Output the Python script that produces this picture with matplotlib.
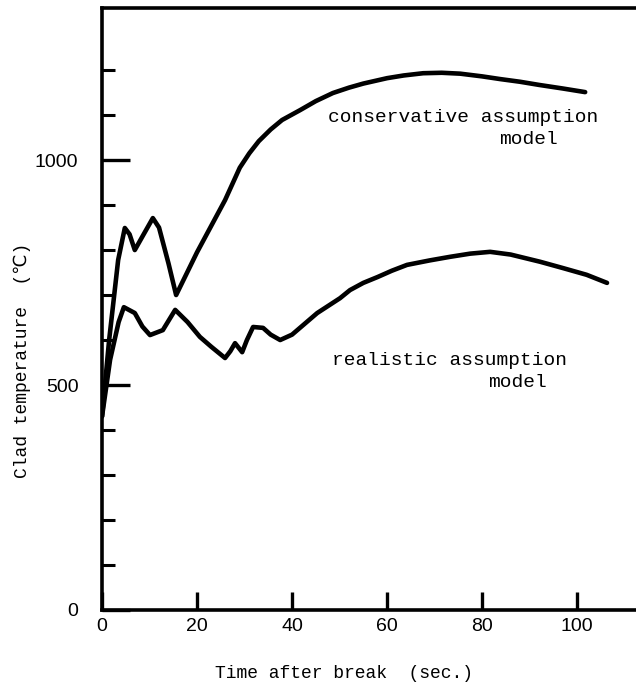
import matplotlib
matplotlib.use("Agg")
from matplotlib import pyplot as plt

# values
cons_time = [0, 1.5, 3.4, 4.8, 5.8, 6.9, 8.5, 10.7, 12, 14, 15.6, 20, 25.9, 29, 31, 33,
             35.5, 37.9, 41.7, 45, 48.6, 52, 55, 60, 63.5, 67.6, 71.5, 75.4, 80, 83.8,
             88, 92, 97, 101.7]
cons_temp = [430, 600, 778, 849, 835, 800, 830, 871, 850, 770, 700, 795, 911, 983, 1015, 1042,
             1068, 1089, 1111, 1131, 1149, 1161, 1170, 1182, 1188, 1193, 1194, 1192, 1186, 1180,
             1174, 1167, 1159, 1151]

real_time = [0, 1.7, 3.5, 4.6, 6.9, 8.5, 10.1, 12.8, 15.4, 18, 20.6, 23, 25.9, 27, 28,
             29.5, 30.5, 31.8, 33.9, 35.5, 37.5, 40, 45.3, 50.1, 52.2, 55, 58, 61, 64.2,
             69, 73.3, 77.5, 81.7, 86, 92.2, 97, 102, 106.3]
real_temp = [430, 556, 640, 673, 660, 630, 611, 622, 667, 640, 607, 585, 560, 575, 593,
             573, 600, 629, 627, 612, 600, 612, 660, 693, 711, 727, 740, 754, 767,
             777, 785, 792, 796, 790, 774, 760, 745, 727]

x_ticks = [0, 20, 40, 60, 80, 100]
y_ticks = [0, 500, 1000]
y_minor = [100, 200, 300, 400, 600, 700, 800, 900, 1100, 1200]

mono = ['Liberation Mono', 'DejaVu Sans Mono', 'DejaVu Sans']

fig = plt.figure(figsize=(6.36, 6.88), dpi=100)
ax = fig.add_axes([0.1604, 0.1134, 0.8396, 0.8750])

ax.plot(cons_time, cons_temp, color='black', lw=3.3, solid_joinstyle='round', solid_capstyle='round')
ax.plot(real_time, real_temp, color='black', lw=3.3, solid_joinstyle='round', solid_capstyle='round')

ax.set_xlim(0, 112.4)
ax.set_ylim(0, 1338)

ax.spines['right'].set_visible(False)
for s in ['left', 'bottom', 'top']:
    ax.spines[s].set_linewidth(2.6)

ax.set_xticks(x_ticks)
ax.set_xticklabels([str(v) for v in x_ticks], family='Liberation Sans', fontsize=14)
ax.set_yticks(y_ticks)
ax.set_yticklabels([str(v) for v in y_ticks], family='Liberation Sans', fontsize=14)
ax.set_yticks(y_minor, minor=True)

ax.tick_params(axis='x', direction='in', length=13, width=2.4, pad=6)
ax.tick_params(axis='y', which='major', direction='in', length=20, width=2.4, pad=17)
ax.tick_params(axis='y', which='minor', direction='in', length=9.5, width=2.2)

ax.text(47.6, 1095, 'conservative assumption', family=mono, fontsize=14, va='center')
ax.text(83.5, 1045, 'model', family=mono, fontsize=14, va='center')
ax.text(48.4, 555, 'realistic assumption', family=mono, fontsize=14, va='center')
ax.text(81.3, 505, 'model', family=mono, fontsize=14, va='center')

fig.text(344 / 636, 1 - 673 / 688, 'Time after break  (sec.)', family=mono, fontsize=13,
         ha='center', va='center')
fig.text(22 / 636, 1 - 360 / 688, 'Clad temperature  (\u2103)', family=mono, fontsize=13,
         ha='center', va='center', rotation=90)

fig.savefig('out.png', dpi=100)
